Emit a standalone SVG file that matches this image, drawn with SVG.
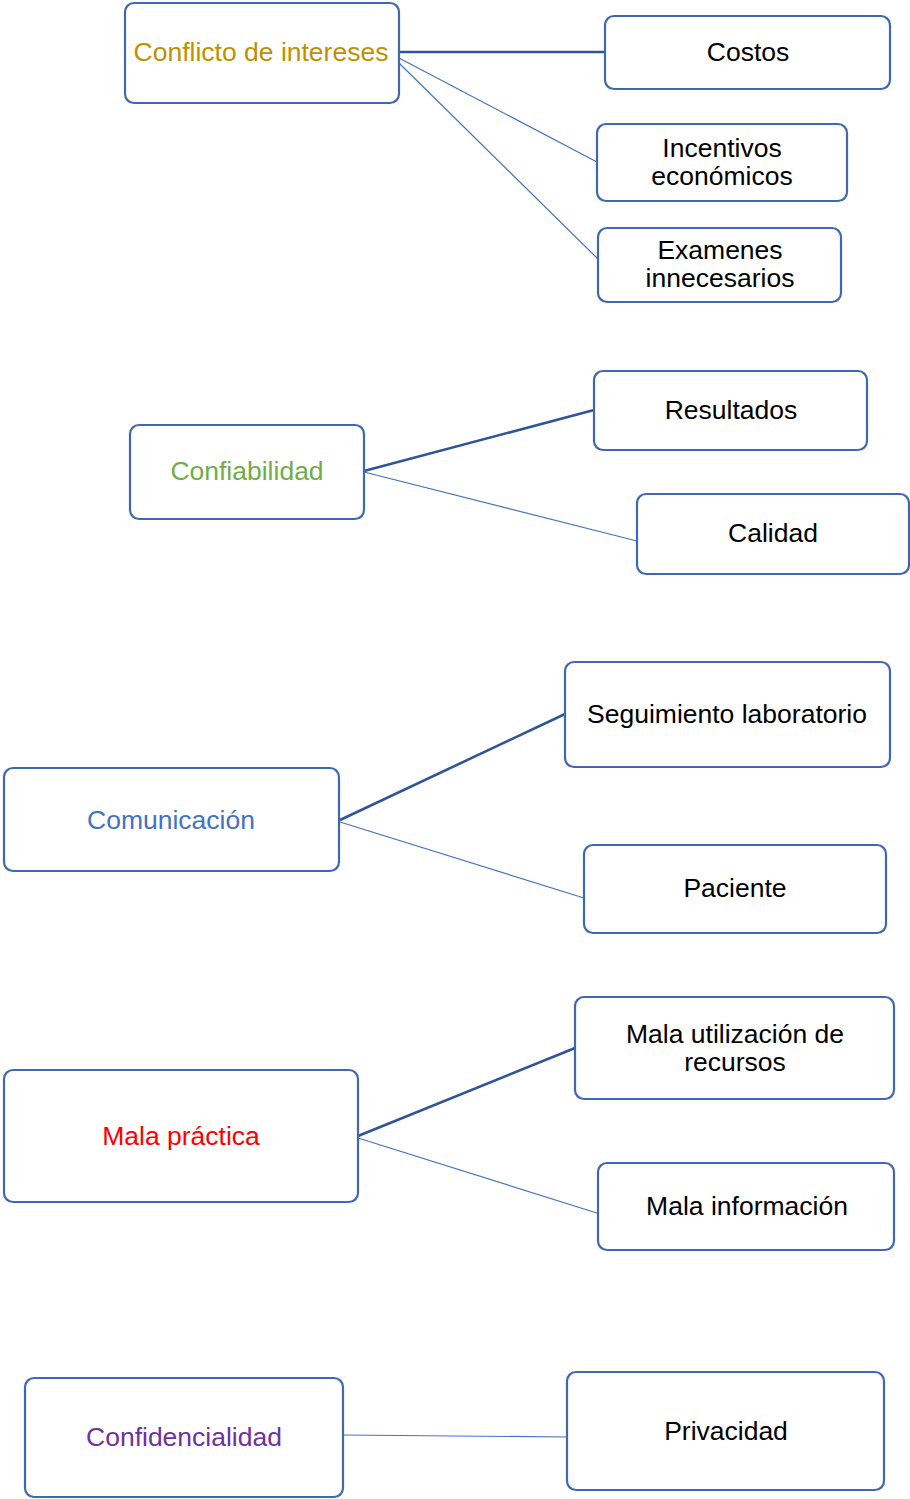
<svg xmlns="http://www.w3.org/2000/svg" width="910" height="1499" viewBox="0 0 910 1499">
<style>
.box{fill:#ffffff;stroke:#4068B2;stroke-width:2.2}
.t{font-family:"Liberation Sans",Arial,sans-serif;font-size:26.5px;text-anchor:middle;fill:#000000}
.thick{stroke:#2F5597;stroke-width:2.6;fill:none}
.thin{stroke:#4472C4;stroke-width:1.2;fill:none}
</style>
<rect width="910" height="1499" fill="#ffffff"/>
<g id="connectors">
<line class="thick" x1="399" y1="52" x2="605" y2="52"/>
<line class="thin" x1="399" y1="58" x2="597" y2="162"/>
<line class="thin" x1="399" y1="63" x2="598" y2="259"/>
<line class="thick" x1="364" y1="471" x2="594" y2="410"/>
<line class="thin" x1="364" y1="472" x2="637" y2="541"/>
<line class="thick" x1="340" y1="820" x2="565" y2="714"/>
<line class="thin" x1="340" y1="822" x2="584" y2="898"/>
<line class="thick" x1="358" y1="1136" x2="575" y2="1048"/>
<line class="thin" x1="358" y1="1138" x2="600" y2="1214"/>
<line class="thin" x1="343" y1="1435" x2="567" y2="1437"/>
</g>
<g id="n1"><rect class="box" x="125" y="3" width="274" height="100" rx="9"/><text class="t" x="261" y="61" style="fill:#BF9000">Conflicto de intereses</text></g>
<g id="n2"><rect class="box" x="605" y="16" width="285" height="73" rx="9"/><text class="t" x="748" y="61">Costos</text></g>
<g id="n3"><rect class="box" x="597" y="124" width="250" height="77" rx="9"/><text class="t" x="722" y="157">Incentivos</text><text class="t" x="722" y="185">económicos</text></g>
<g id="n4"><rect class="box" x="598" y="228" width="243" height="74" rx="9"/><text class="t" x="720" y="259">Examenes</text><text class="t" x="720" y="287">innecesarios</text></g>
<g id="n5"><rect class="box" x="130" y="425" width="234" height="94" rx="9"/><text class="t" x="247" y="480" style="fill:#70AD47">Confiabilidad</text></g>
<g id="n6"><rect class="box" x="594" y="371" width="273" height="79" rx="9"/><text class="t" x="731" y="419">Resultados</text></g>
<g id="n7"><rect class="box" x="637" y="494" width="272" height="80" rx="9"/><text class="t" x="773" y="542">Calidad</text></g>
<g id="n8"><rect class="box" x="4" y="768" width="335" height="103" rx="9"/><text class="t" x="171" y="829" style="fill:#4472C4">Comunicación</text></g>
<g id="n9"><rect class="box" x="565" y="662" width="325" height="105" rx="9"/><text class="t" x="727" y="723">Seguimiento laboratorio</text></g>
<g id="n10"><rect class="box" x="584" y="845" width="302" height="88" rx="9"/><text class="t" x="735" y="897">Paciente</text></g>
<g id="n11"><rect class="box" x="4" y="1070" width="354" height="132" rx="9"/><text class="t" x="181" y="1145" style="fill:#FF0000">Mala práctica</text></g>
<g id="n12"><rect class="box" x="575" y="997" width="319" height="102" rx="9"/><text class="t" x="735" y="1043">Mala utilización de</text><text class="t" x="735" y="1071">recursos</text></g>
<g id="n13"><rect class="box" x="598" y="1163" width="296" height="87" rx="9"/><text class="t" x="747" y="1215">Mala información</text></g>
<g id="n14"><rect class="box" x="25" y="1378" width="318" height="119" rx="9"/><text class="t" x="184" y="1446" style="fill:#7030A0">Confidencialidad</text></g>
<g id="n15"><rect class="box" x="567" y="1372" width="317" height="118" rx="9"/><text class="t" x="726" y="1440">Privacidad</text></g>
</svg>
